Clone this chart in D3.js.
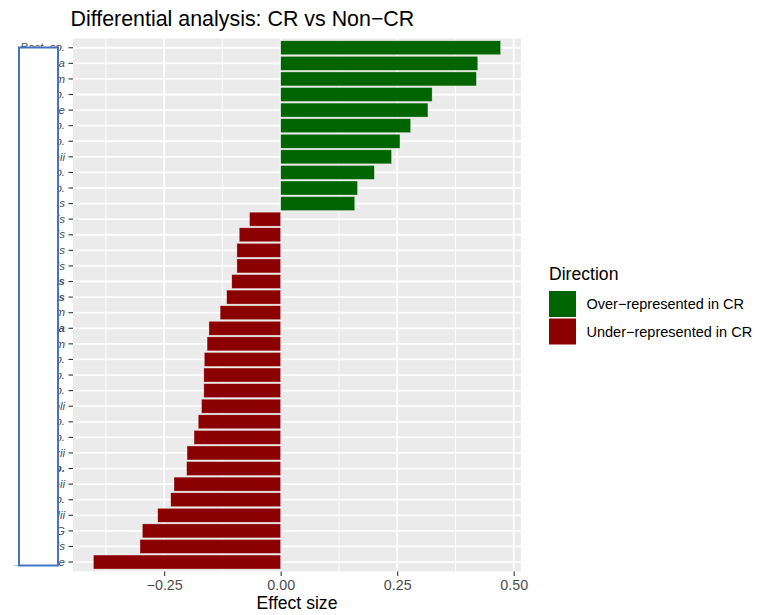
<!DOCTYPE html>
<html>
<head>
<meta charset="utf-8">
<script src="https://cdn.jsdelivr.net/npm/d3@7"></script>
<style>
  html, body { margin: 0; padding: 0; background: #ffffff; }
  svg { display: block; font-family: "Liberation Sans", Arial, Helvetica, sans-serif; }
</style>
</head>
<body>
<svg id="chart" width="776" height="615"></svg>
<script>
// Taxa ordered top to bottom, with their effect sizes (CR vs Non-CR)
const taxa = [
  "Bact. sp.", "Blautia", "B. longum", "Alis. sp.", "E. rectale", "Prev. sp.",
  "Para. sp.", "R. bromii", "Rose. sp.", "Cop. sp.", "B. ovatus", "S. mitis",
  "S. oralis", "S. aureus", "L. lactis", "R. gnavus", "L. brevis", "C. leptum",
  "V. parvula", "E. avium", "Ent. sp.", "Lach. sp.", "Dial. sp.", "E. coli",
  "Meg. sp.", "Rum. sp.", "F. prausnitzii", "Eub. sp.", "P. johnsonii",
  "Anae. sp.", "E. hallii", "Firm. CAG", "B. fragilis", "C. bolteae"
];
const effectSize = [
  0.472, 0.423, 0.420, 0.325, 0.316, 0.279, 0.256, 0.238, 0.201, 0.165, 0.159,
  -0.067, -0.089, -0.094, -0.094, -0.105, -0.116, -0.130, -0.154, -0.158, -0.164,
  -0.165, -0.165, -0.170, -0.177, -0.186, -0.201, -0.202, -0.229, -0.236, -0.264,
  -0.297, -0.302, -0.402
];
// Taxa whose axis labels are set in bold
const boldTaxa = ["R. gnavus", "L. brevis", "V. parvula", "Eub. sp."];

const directions = ["Over\u2212represented in CR", "Under\u2212represented in CR"];
const directionColors = ["#006400", "#8B0000"];
const xTicks = [-0.25, 0, 0.25, 0.5];
const xMinorTicks = [-0.375, -0.125, 0.125, 0.375];

const rows = taxa.map((t, i) => ({
  taxon: t,
  value: effectSize[i],
  direction: effectSize[i] >= 0 ? directions[0] : directions[1]
}));

const svg = d3.select("#chart");
const panel = { left: 73, right: 521, top: 38.4, bottom: 571.4 };

// x scale with 5% expansion around the data (including zero)
const lo = Math.min(0, d3.min(effectSize)), hi = Math.max(0, d3.max(effectSize));
const pad = (hi - lo) * 0.05;
const x = d3.scaleLinear().domain([lo - pad, hi + pad]).range([panel.left, panel.right]);
const y = d3.scaleBand().domain(taxa).range([panel.top, panel.bottom])
  .paddingInner(0.1).paddingOuter(0.15);
const color = d3.scaleOrdinal().domain(directions).range(directionColors);

// Panel background and grid
svg.append("rect")
  .attr("x", panel.left).attr("y", panel.top)
  .attr("width", panel.right - panel.left).attr("height", panel.bottom - panel.top)
  .attr("fill", "#EBEBEB");

const grid = svg.append("g");
grid.selectAll(".minor").data(xMinorTicks).join("line")
  .attr("x1", d => x(d)).attr("x2", d => x(d))
  .attr("y1", panel.top).attr("y2", panel.bottom)
  .attr("stroke", "#ffffff").attr("stroke-width", 0.9);
grid.selectAll(".major").data(xTicks).join("line")
  .attr("x1", d => x(d)).attr("x2", d => x(d))
  .attr("y1", panel.top).attr("y2", panel.bottom)
  .attr("stroke", "#ffffff").attr("stroke-width", 1.8);
grid.selectAll(".hmajor").data(taxa).join("line")
  .attr("x1", panel.left).attr("x2", panel.right)
  .attr("y1", d => y(d) + y.bandwidth() / 2).attr("y2", d => y(d) + y.bandwidth() / 2)
  .attr("stroke", "#ffffff").attr("stroke-width", 1.8);

// Bars
svg.append("g").selectAll("rect").data(rows).join("rect")
  .attr("x", d => x(Math.min(0, d.value)))
  .attr("width", d => Math.abs(x(d.value) - x(0)))
  .attr("y", d => y(d.taxon))
  .attr("height", y.bandwidth())
  .attr("fill", d => color(d.direction))
  .attr("stroke", "#ffffff").attr("stroke-opacity", 0.6).attr("stroke-width", 0.6);

// x axis
const xAxis = svg.append("g")
  .attr("transform", `translate(0,${panel.bottom})`)
  .call(d3.axisBottom(x).tickValues(xTicks).tickSize(4.5).tickPadding(3.5)
    .tickFormat(d => d3.format(".2f")(d).replace("-", "\u2212")));
xAxis.select(".domain").remove();
xAxis.selectAll(".tick line").attr("stroke", "#333333").attr("stroke-width", 1.1);
xAxis.selectAll(".tick text").attr("fill", "#4D4D4D").attr("font-size", 14.3)
  .attr("font-family", "'Liberation Sans', Arial, sans-serif");

// y axis
const yAxis = svg.append("g")
  .attr("transform", `translate(${panel.left},0)`)
  .call(d3.axisLeft(y).tickSize(4.5).tickPadding(3.5));
yAxis.select(".domain").remove();
yAxis.selectAll(".tick line").attr("stroke", "#333333").attr("stroke-width", 1.1);
yAxis.selectAll(".tick text").attr("fill", "#4D4D4D").attr("font-size", 11.5)
  .attr("font-style", "italic")
  .attr("font-weight", d => boldTaxa.includes(d) ? "bold" : "normal")
  .attr("font-family", "'Liberation Sans', Arial, sans-serif");

// Titles
svg.append("text")
  .attr("x", 70.5).attr("y", 26)
  .attr("font-size", 21.4).attr("fill", "#000000")
  .text("Differential analysis: CR vs Non\u2212CR");

svg.append("text")
  .attr("x", (panel.left + panel.right) / 2).attr("y", 609)
  .attr("text-anchor", "middle")
  .attr("font-size", 17.6).attr("fill", "#000000")
  .text("Effect size");

// Legend
const legend = svg.append("g").attr("transform", "translate(549,0)");
legend.append("text")
  .attr("x", 0).attr("y", 280)
  .attr("font-size", 17.6).attr("fill", "#000000")
  .text("Direction");
const items = legend.selectAll(".item").data(directions).join("g")
  .attr("transform", (d, i) => `translate(0,${291 + i * 27.5})`);
items.append("rect")
  .attr("width", 27).attr("height", 26)
  .attr("fill", d => color(d));
items.append("text")
  .attr("x", 37.5).attr("y", 13).attr("dy", "0.36em")
  .attr("font-size", 14.5).attr("fill", "#000000")
  .text(d => d);

// White panel over the taxon names, outlined in blue
svg.append("rect")
  .attr("x", 0).attr("y", 47.5)
  .attr("width", 19).attr("height", 518)
  .attr("fill", "#ffffff");
svg.append("rect")
  .attr("x", 19).attr("y", 47.5)
  .attr("width", 39).attr("height", 518)
  .attr("fill", "#ffffff")
  .attr("stroke", "#4472C4").attr("stroke-width", 2);
</script>
</body>
</html>
